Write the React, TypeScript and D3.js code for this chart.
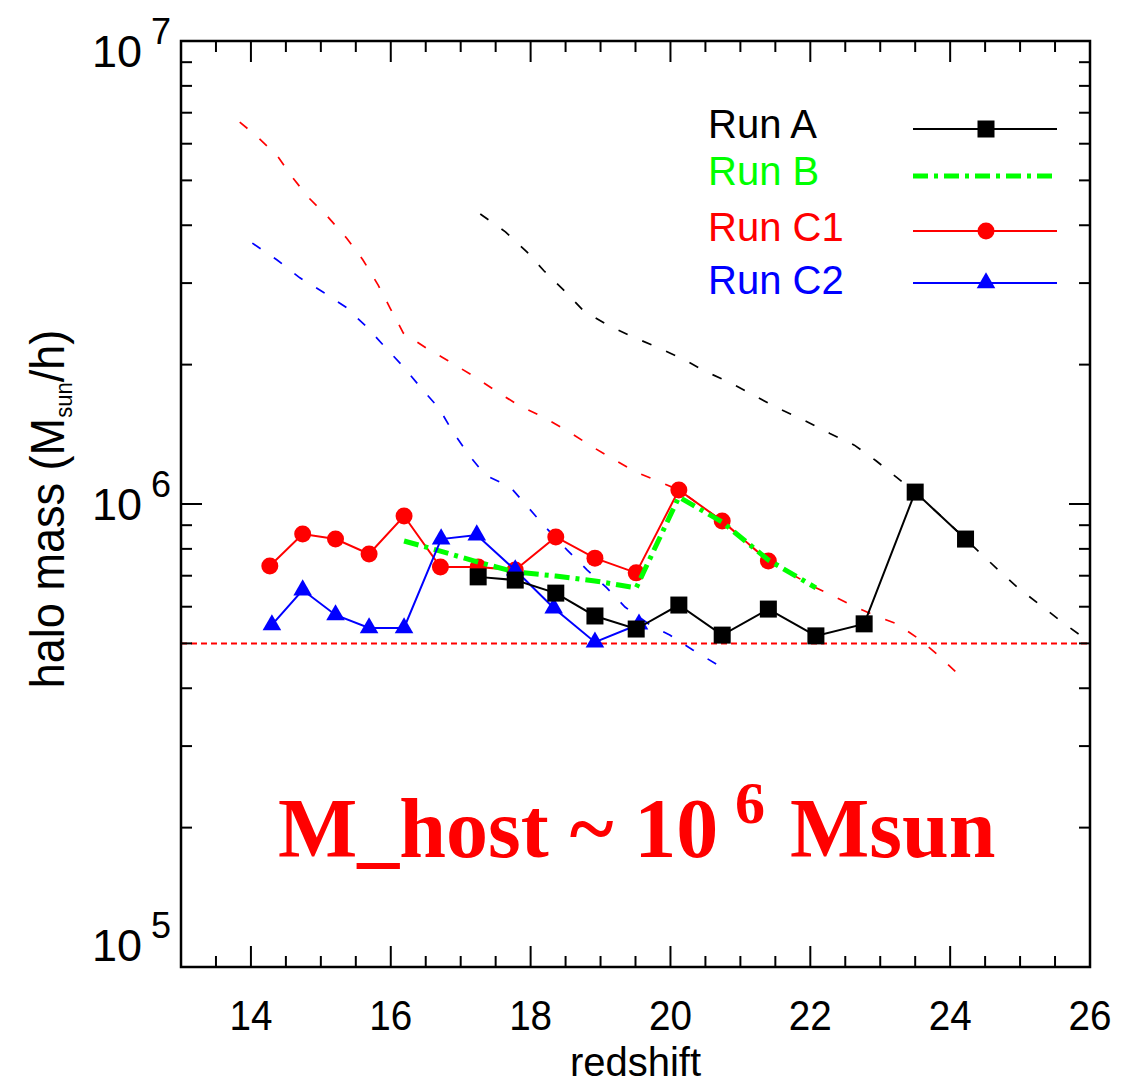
import React from "react";
import * as d3 from "d3";

// ---- data (redshift, halo mass in Msun/h) ----
const zRunA = [17.25, 17.78, 18.36, 18.92, 19.51, 20.12, 20.74, 21.40, 22.08, 22.77, 23.50, 24.22];
const massRunA = [6.96e5, 6.85e5, 6.42e5, 5.73e5, 5.37e5, 6.05e5, 5.21e5, 5.93e5, 5.19e5, 5.51e5, 1.061e6, 8.40e5];

const zRunB = [16.19, 16.71, 17.25, 17.78, 18.36, 18.92, 19.51, 20.12, 20.74, 21.40, 22.08];
const massRunB = [8.32e5, 7.91e5, 7.49e5, 7.13e5, 6.99e5, 6.82e5, 6.59e5, 1.035e6, 9.14e5, 7.57e5, 6.59e5];

const zRunC1 = [14.27, 14.74, 15.21, 15.69, 16.19, 16.71, 17.25, 17.78, 18.36, 18.92, 19.51, 20.12, 20.74, 21.40];
const massRunC1 = [7.35e5, 8.61e5, 8.40e5, 7.80e5, 9.42e5, 7.31e5, 7.31e5, 7.20e5, 8.49e5, 7.64e5, 7.10e5, 1.072e6, 9.19e5, 7.53e5];

const zRunC2 = [14.30, 14.74, 15.21, 15.69, 16.19, 16.72, 17.23, 17.78, 18.33, 18.92, 19.55];
const massRunC2 = [5.48e5, 6.52e5, 5.76e5, 5.40e5, 5.40e5, 8.40e5, 8.57e5, 7.20e5, 5.96e5, 5.03e5, 5.50e5];

// dashed (main progenitor) curves
const zDashA = [17.28, 17.64, 17.95, 18.19, 18.47, 18.75, 19.09, 19.45, 19.81, 20.17, 20.51, 20.85, 21.21, 21.54, 21.90, 22.28, 22.63, 22.94, 23.24, 23.50, 24.22, 24.43, 24.69, 24.97, 25.29, 25.62, 26.0];
const massDashA = [4.23e6, 3.87e6, 3.50e6, 3.19e6, 2.90e6, 2.62e6, 2.44e6, 2.30e6, 2.18e6, 2.06e6, 1.93e6, 1.83e6, 1.71e6, 1.61e6, 1.52e6, 1.42e6, 1.34e6, 1.24e6, 1.14e6, 1.061e6, 8.40e5, 7.84e5, 7.20e5, 6.59e5, 6.05e5, 5.53e5, 5.03e5];

const zDashC1 = [13.84, 14.06, 14.37, 14.60, 14.83, 15.10, 15.37, 15.60, 15.82, 15.99, 16.18, 16.51, 16.82, 17.18, 17.49, 17.81, 18.18, 18.52, 18.88, 19.18, 19.52, 19.85, 20.12, 20.74, 21.40, 22.08, 22.24, 22.53, 22.90, 23.24, 23.57, 23.86, 24.17, 24.22];
const massDashC1 = [6.68e6, 6.27e6, 5.67e6, 5.06e6, 4.58e6, 4.17e6, 3.75e6, 3.37e6, 2.97e6, 2.65e6, 2.34e6, 2.17e6, 2.04e6, 1.89e6, 1.76e6, 1.64e6, 1.54e6, 1.44e6, 1.33e6, 1.25e6, 1.17e6, 1.116e6, 1.072e6, 9.19e5, 7.53e5, 6.59e5, 6.42e5, 6.11e5, 5.76e5, 5.51e5, 5.09e5, 4.67e5, 4.21e5, 4.11e5];

const zDashC2 = [14.02, 14.37, 14.70, 15.03, 15.36, 15.66, 15.92, 16.18, 16.42, 16.69, 16.89, 17.11, 17.35, 17.71, 17.96, 18.21, 18.52, 18.81, 19.09, 19.35, 19.71, 19.99, 20.32, 20.75];
const massDashC2 = [3.66e6, 3.37e6, 3.08e6, 2.87e6, 2.66e6, 2.41e6, 2.18e6, 1.98e6, 1.79e6, 1.61e6, 1.43e6, 1.28e6, 1.155e6, 1.088e6, 9.85e5, 8.92e5, 7.96e5, 7.20e5, 6.59e5, 5.99e5, 5.48e5, 5.21e5, 4.84e5, 4.42e5];

const thresholdMass = 5e5;

const xTickLabels = [14, 16, 18, 20, 22, 24, 26];
const yTickExponents = [5, 6, 7];
const legendNames = ["Run A", "Run B", "Run C1", "Run C2"];

// ---- layout ----
const W = 1122;
const H = 1085;
const L = 181, R = 1090, T = 41, B = 967;

const x = d3.scaleLinear().domain([13, 26]).range([L, R]);
const y = d3.scaleLog().domain([1e5, 1e7]).range([B, T]);

const SANS = "'Liberation Sans', Arial, Helvetica, sans-serif";
const SERIF = "'Liberation Serif', 'Times New Roman', serif";

const zip = (z: number[], m: number[]) => z.map((v, i) => [v, m[i]] as [number, number]);
const lineGen = d3
  .line<[number, number]>()
  .x((d) => x(d[0]))
  .y((d) => y(d[1]));

const triPath = d3.symbol().type(d3.symbolTriangle).size(150)() as string;

function Marker({ kind, cx, cy, color }: { kind: string; cx: number; cy: number; color: string }) {
  if (kind === "square") return <rect x={cx - 8.5} y={cy - 8.5} width={17} height={17} fill={color} />;
  if (kind === "circle") return <circle cx={cx} cy={cy} r={8.5} fill={color} />;
  if (kind === "triangle") return <path d={triPath} transform={`translate(${cx},${cy})`} fill={color} />;
  return null;
}

function Series({ z, m, color, width, dash, marker }: any) {
  const pts = zip(z, m);
  return (
    <g>
      <path d={lineGen(pts) as string} fill="none" stroke={color} strokeWidth={width} strokeDasharray={dash} />
      {marker && pts.map((p, i) => <Marker key={i} kind={marker} cx={x(p[0])} cy={y(p[1])} color={color} />)}
    </g>
  );
}

export default function App() {
  const xMinor = d3.range(13.5, 26, 0.5).filter((v) => Math.abs(v % 2) > 1e-6);
  const xMajor = d3.range(14, 26.01, 2);
  const yMinor: number[] = [];
  [1e5, 1e6].forEach((b) => d3.range(2, 10).forEach((k) => yMinor.push(k * b)));
  const yMajor = [1e5, 1e6, 1e7];
  const MJ = 21, MN = 11;

  const legendColors = ["#000000", "#00ff00", "#ff0000", "#0000ff"];
  const legendMarkers = ["square", null, "circle", "triangle"];
  const legendBase = [138, 185, 241, 294];
  const legendLineY = [129, 176, 231, 283];

  return (
    <svg width={W} height={H} style={{ position: "absolute", left: 0, top: 0, background: "#fff" }}>
      <rect x={0} y={0} width={W} height={H} fill="#fff" />
      <defs>
        <clipPath id="plotclip">
          <rect x={L} y={T} width={R - L} height={B - T} />
        </clipPath>
      </defs>

      <g clipPath="url(#plotclip)">
        {/* threshold line */}
        <line x1={L} x2={R} y1={y(thresholdMass)} y2={y(thresholdMass)} stroke="#ff0000" strokeWidth={2} strokeDasharray="6,4" />
        {/* dashed progenitor curves */}
        <Series z={zDashA} m={massDashA} color="#000000" width={1.7} dash="10,16" />
        <Series z={zDashC1} m={massDashC1} color="#ff0000" width={1.7} dash="10,16" />
        <Series z={zDashC2} m={massDashC2} color="#0000ff" width={1.7} dash="10,16" />
        {/* runs */}
        <Series z={zRunC1} m={massRunC1} color="#ff0000" width={2} marker="circle" />
        <Series z={zRunB} m={massRunB} color="#00ff00" width={5} dash="15,6,4,6" />
        <Series z={zRunC2} m={massRunC2} color="#0000ff" width={2} marker="triangle" />
        <Series z={zRunA} m={massRunA} color="#000000" width={2} marker="square" />
      </g>

      {/* frame */}
      <rect x={L} y={T} width={R - L} height={B - T} fill="none" stroke="#000" strokeWidth={2.5} />

      {/* x ticks */}
      {xMajor.map((v) => (
        <g key={"xM" + v}>
          <line x1={x(v)} x2={x(v)} y1={B} y2={B - MJ} stroke="#000" strokeWidth={2} />
          <line x1={x(v)} x2={x(v)} y1={T} y2={T + MJ} stroke="#000" strokeWidth={2} />
        </g>
      ))}
      {xMinor.map((v) => (
        <g key={"xm" + v}>
          <line x1={x(v)} x2={x(v)} y1={B} y2={B - MN} stroke="#000" strokeWidth={2} />
          <line x1={x(v)} x2={x(v)} y1={T} y2={T + MN} stroke="#000" strokeWidth={2} />
        </g>
      ))}
      {/* y ticks */}
      {yMajor.map((v) => (
        <g key={"yM" + v}>
          <line x1={L} x2={L + MJ} y1={y(v)} y2={y(v)} stroke="#000" strokeWidth={2} />
          <line x1={R} x2={R - MJ} y1={y(v)} y2={y(v)} stroke="#000" strokeWidth={2} />
        </g>
      ))}
      {yMinor.map((v) => (
        <g key={"ym" + v}>
          <line x1={L} x2={L + MN} y1={y(v)} y2={y(v)} stroke="#000" strokeWidth={2} />
          <line x1={R} x2={R - MN} y1={y(v)} y2={y(v)} stroke="#000" strokeWidth={2} />
        </g>
      ))}

      {/* x tick labels */}
      {xTickLabels.map((v) => (
        <text
          key={"xl" + v}
          transform={`translate(${x(v)},1030) scale(0.92,1)`}
          textAnchor="middle"
          fontFamily={SANS}
          fontSize={42}
          fill="#000"
        >
          {v}
        </text>
      ))}
      <text
        transform={`translate(${(L + R) / 2},1076)`}
        textAnchor="middle"
        fontFamily={SANS}
        fontSize={40}
        fill="#000"
      >
        redshift
      </text>

      {/* y tick labels */}
      {yTickExponents.map((e) => {
        const yy = Math.min(Math.max(y(Math.pow(10, e)), T + 10), B - 22);
        return (
          <g key={"yl" + e}>
            <text x={142} y={yy + 16} textAnchor="end" fontFamily={SANS} fontSize={45} fill="#000">
              10
            </text>
            <text x={151} y={yy - 7} textAnchor="start" fontFamily={SANS} fontSize={36} fill="#000">
              {e}
            </text>
          </g>
        );
      })}
      <text
        transform={`translate(64,509) rotate(-90) scale(0.92,1)`}
        textAnchor="middle"
        fontFamily={SANS}
        fontSize={49}
        fill="#000"
      >
        halo mass (M
        <tspan fontSize={24} dy={8}>sun</tspan>
        <tspan dy={-8}>/h)</tspan>
      </text>

      {/* legend */}
      {legendNames.map((name, i) => (
        <g key={name}>
          <text x={708} y={legendBase[i]} fontFamily={SANS} fontSize={40} fill={legendColors[i]}>
            {name}
          </text>
          <line
            x1={913}
            x2={1057}
            y1={legendLineY[i]}
            y2={legendLineY[i]}
            stroke={legendColors[i]}
            strokeWidth={i === 1 ? 5 : 2}
            strokeDasharray={i === 1 ? "15,6,4,6" : undefined}
          />
          {legendMarkers[i] && <Marker kind={legendMarkers[i] as string} cx={986} cy={legendLineY[i]} color={legendColors[i]} />}
        </g>
      ))}

      {/* annotation */}
      <text fontFamily={SERIF} fontWeight="bold" fill="#ff0000" fontSize={84}>
        <tspan x={278} y={857}>M_host ~ 10</tspan>
        <tspan x={735} y={823} fontSize={60}>6</tspan>
        <tspan x={790} y={857}>Msun</tspan>
      </text>
    </svg>
  );
}
